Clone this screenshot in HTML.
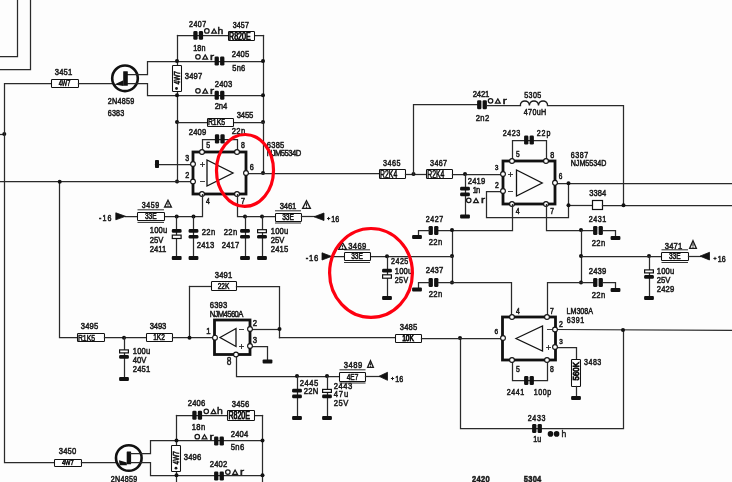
<!DOCTYPE html>
<html><head><meta charset="utf-8"><style>
html,body{margin:0;padding:0;background:#fff;}
svg{display:block;will-change:transform;}
text{font-family:"Liberation Sans",sans-serif;}
</style></head><body>
<svg width="732" height="482" viewBox="0 0 732 482">
<rect width="732" height="482" fill="#fdfdfd"/>
<polyline points="0.5,56.5 17.5,56.5 17.5,0.5" fill="none" stroke="#2a2a2a" stroke-width="1.25" stroke-linejoin="miter" stroke-linecap="square"/>
<polyline points="0.5,69.5 30.5,69.5 30.5,0.5" fill="none" stroke="#2a2a2a" stroke-width="1.25" stroke-linejoin="miter" stroke-linecap="square"/>
<polyline points="0.5,134.5 4.5,134.5" fill="none" stroke="#2a2a2a" stroke-width="1.25" stroke-linejoin="miter" stroke-linecap="square"/>
<circle cx="4.3" cy="134" r="2.0" fill="#111"/>
<polyline points="51.5,83.5 4.5,83.5 4.5,462.5 54.5,462.5" fill="none" stroke="#2a2a2a" stroke-width="1.25" stroke-linejoin="miter" stroke-linecap="square"/>
<rect x="51.5" y="79.5" width="27.0" height="8.0" fill="#fff" stroke="#111" stroke-width="1.05" rx="0.8"/>
<text x="58.65" y="85.90" font-size="8.43" fill="#111" stroke="#111" stroke-width="0.55" textLength="11.7" lengthAdjust="spacingAndGlyphs">4W7</text>
<text transform="translate(54.69,74.95) scale(0.8,1)" x="0" y="0" font-size="9.59" font-weight="normal" fill="#1a1a1a" stroke="#1a1a1a" stroke-width="0.55" textLength="22.02" lengthAdjust="spacing">3451</text>
<polyline points="78.5,83.5 112.5,83.5" fill="none" stroke="#2a2a2a" stroke-width="1.25" stroke-linejoin="miter" stroke-linecap="square"/>
<circle cx="125" cy="78.3" r="12.8" fill="none" stroke="#111" stroke-width="2.6"/>
<polyline points="127.5,74.5 147.5,74.5 147.5,61.5 263.5,61.5" fill="none" stroke="#2a2a2a" stroke-width="1.25" stroke-linejoin="miter" stroke-linecap="square"/>
<polyline points="127.5,83.5 147.5,83.5 147.5,95.5 263.5,95.5" fill="none" stroke="#2a2a2a" stroke-width="1.25" stroke-linejoin="miter" stroke-linecap="square"/>
<rect x="123.2" y="71.3" width="4.599999999999994" height="14.5" fill="#111" rx="0.5"/>
<polygon points="114.3,84.6 123.4,80.2 123.4,86" fill="#111"/>
<text transform="translate(107.71,103.5) scale(0.8,1)" x="0" y="0" font-size="9.01" font-weight="normal" fill="#1a1a1a" stroke="#1a1a1a" stroke-width="0.55" textLength="33.22" lengthAdjust="spacing">2N4859</text>
<text transform="translate(107.71,115.5) scale(0.8,1)" x="0" y="0" font-size="9.01" font-weight="normal" fill="#1a1a1a" stroke="#1a1a1a" stroke-width="0.55" textLength="20.72" lengthAdjust="spacing">6383</text>
<polyline points="177.5,35.5 263.5,35.5" fill="none" stroke="#2a2a2a" stroke-width="1.25" stroke-linejoin="miter" stroke-linecap="square"/>
<polyline points="177.5,35.5 177.5,182.5" fill="none" stroke="#2a2a2a" stroke-width="1.25" stroke-linejoin="miter" stroke-linecap="square"/>
<polyline points="263.5,35.5 263.5,173.5" fill="none" stroke="#2a2a2a" stroke-width="1.25" stroke-linejoin="miter" stroke-linecap="square"/>
<rect x="193.29999999999998" y="31.099999999999998" width="4.300000000000011" height="8.599999999999998" fill="#111" rx="1.3"/>
<rect x="198.79999999999998" y="31.099999999999998" width="4.300000000000011" height="8.599999999999998" fill="#111" rx="1.3"/>
<rect x="228.5" y="31.5" width="26.0" height="9.0" fill="#fff" stroke="#111" stroke-width="1.05" rx="0.8"/>
<text x="229.10" y="39.50" font-size="10.47" fill="#111" stroke="#111" stroke-width="0.9" textLength="21.5" lengthAdjust="spacingAndGlyphs">R820E</text>
<text transform="translate(189.12,27.2) scale(0.8,1)" x="0" y="0" font-size="8.87" font-weight="normal" fill="#1a1a1a" stroke="#1a1a1a" stroke-width="0.55" textLength="21.21" lengthAdjust="spacing">2407</text>
<text transform="translate(232.72,27.5) scale(0.8,1)" x="0" y="0" font-size="8.87" font-weight="normal" fill="#1a1a1a" stroke="#1a1a1a" stroke-width="0.55" textLength="20.21" lengthAdjust="spacing">3457</text>
<circle cx="206.85" cy="30.95" r="2.25" fill="none" stroke="#1a1a1a" stroke-width="1.25"/>
<polygon points="214.1,29.0 216.5,33.199999999999996 211.7,33.199999999999996" fill="none" stroke="#1a1a1a" stroke-width="1.25"/>
<text x="217.60" y="33.80" font-size="9.4" fill="#1a1a1a" stroke="#1a1a1a" stroke-width="0.5" textLength="5.8" lengthAdjust="spacingAndGlyphs">h</text>
<text transform="translate(193.21,51.0) scale(0.8,1)" x="0" y="0" font-size="9.01" font-weight="normal" fill="#1a1a1a" stroke="#1a1a1a" stroke-width="0.55" textLength="15.35" lengthAdjust="spacing">18n</text>
<rect x="214.6" y="56.5" width="4.300000000000011" height="9.0" fill="#111" rx="1.3"/>
<rect x="220.1" y="56.5" width="4.300000000000011" height="9.0" fill="#111" rx="1.3"/>
<circle cx="197.95" cy="56.85" r="2.25" fill="none" stroke="#1a1a1a" stroke-width="1.25"/>
<polygon points="205.2,54.900000000000006 207.6,59.1 202.79999999999998,59.1" fill="none" stroke="#1a1a1a" stroke-width="1.25"/>
<text x="210.10" y="59.70" font-size="8.3" fill="#1a1a1a" stroke="#1a1a1a" stroke-width="0.5" textLength="4" lengthAdjust="spacingAndGlyphs">r</text>
<text transform="translate(231.69,56.95) scale(0.8,1)" x="0" y="0" font-size="9.59" font-weight="normal" fill="#1a1a1a" stroke="#1a1a1a" stroke-width="0.55" textLength="22.02" lengthAdjust="spacing">2405</text>
<text transform="translate(232.20,70.6) scale(0.8,1)" x="0" y="0" font-size="9.45" font-weight="normal" fill="#1a1a1a" stroke="#1a1a1a" stroke-width="0.55" textLength="16.38" lengthAdjust="spacing">5n6</text>
<rect x="172.5" y="65.5" width="9.0" height="26.0" fill="#fff" stroke="#111" stroke-width="1.05" rx="0.8"/>
<text transform="translate(179.70,84.50) rotate(-90)" x="0" y="0" font-size="9.30" fill="#111" stroke="#111" stroke-width="0.6" textLength="13.5" lengthAdjust="spacingAndGlyphs">4W7</text>
<circle cx="176.5" cy="88.5" r="1.4" fill="#111"/>
<text transform="translate(184.69,78.95) scale(0.8,1)" x="0" y="0" font-size="9.59" font-weight="normal" fill="#1a1a1a" stroke="#1a1a1a" stroke-width="0.55" textLength="22.02" lengthAdjust="spacing">3497</text>
<rect x="214.6" y="90.7" width="4.300000000000011" height="9.0" fill="#111" rx="1.3"/>
<rect x="220.1" y="90.7" width="4.300000000000011" height="9.0" fill="#111" rx="1.3"/>
<text transform="translate(214.69,87.45) scale(0.8,1)" x="0" y="0" font-size="9.59" font-weight="normal" fill="#1a1a1a" stroke="#1a1a1a" stroke-width="0.55" textLength="22.02" lengthAdjust="spacing">2403</text>
<circle cx="197.95" cy="90.85" r="2.25" fill="none" stroke="#1a1a1a" stroke-width="1.25"/>
<polygon points="205.2,88.89999999999999 207.6,93.10000000000001 202.79999999999998,93.10000000000001" fill="none" stroke="#1a1a1a" stroke-width="1.25"/>
<text x="210.10" y="93.70" font-size="8.3" fill="#1a1a1a" stroke="#1a1a1a" stroke-width="0.5" textLength="4" lengthAdjust="spacingAndGlyphs">r</text>
<text transform="translate(214.69,108.95) scale(0.8,1)" x="0" y="0" font-size="9.59" font-weight="normal" fill="#1a1a1a" stroke="#1a1a1a" stroke-width="0.55" textLength="15.77" lengthAdjust="spacing">2n4</text>
<circle cx="177" cy="61" r="2.0" fill="#111"/>
<circle cx="177" cy="95.2" r="2.0" fill="#111"/>
<circle cx="263" cy="61" r="2.0" fill="#111"/>
<circle cx="263" cy="95.2" r="2.0" fill="#111"/>
<circle cx="177" cy="122" r="2.0" fill="#111"/>
<circle cx="263" cy="122" r="2.0" fill="#111"/>
<circle cx="177" cy="181.5" r="2.0" fill="#111"/>
<circle cx="263" cy="173" r="2.0" fill="#111"/>
<polyline points="177.5,122.5 263.5,122.5" fill="none" stroke="#2a2a2a" stroke-width="1.25" stroke-linejoin="miter" stroke-linecap="square"/>
<rect x="207.5" y="118.5" width="26.0" height="8.0" fill="#fff" stroke="#111" stroke-width="1.05" rx="0.8"/>
<text x="207.90" y="125.10" font-size="9.01" fill="#111" stroke="#111" stroke-width="0.55" textLength="17.2" lengthAdjust="spacingAndGlyphs">R1K5</text>
<text transform="translate(236.69,117.95) scale(0.8,1)" x="0" y="0" font-size="9.59" font-weight="normal" fill="#1a1a1a" stroke="#1a1a1a" stroke-width="0.55" textLength="20.77" lengthAdjust="spacing">3455</text>
<text transform="translate(188.69,134.95) scale(0.8,1)" x="0" y="0" font-size="9.59" font-weight="normal" fill="#1a1a1a" stroke="#1a1a1a" stroke-width="0.55" textLength="22.02" lengthAdjust="spacing">2409</text>
<text transform="translate(231.69,133.95) scale(0.8,1)" x="0" y="0" font-size="9.59" font-weight="normal" fill="#1a1a1a" stroke="#1a1a1a" stroke-width="0.55" textLength="17.02" lengthAdjust="spacing">22n</text>
<polyline points="202.5,152.5 202.5,139.5 237.5,139.5 237.5,152.5" fill="none" stroke="#2a2a2a" stroke-width="1.25" stroke-linejoin="miter" stroke-linecap="square"/>
<rect x="214.9" y="134.20000000000002" width="4.300000000000011" height="9.399999999999977" fill="#111" rx="1.3"/>
<rect x="220.4" y="134.20000000000002" width="4.300000000000011" height="9.399999999999977" fill="#111" rx="1.3"/>
<text transform="translate(208.10,147.6) scale(0.8,1)" x="0" y="0" font-size="8.72" font-weight="normal" fill="#1a1a1a" stroke="#1a1a1a" stroke-width="0.55" text-anchor="middle">5</text>
<text transform="translate(242.85,147.6) scale(0.8,1)" x="0" y="0" font-size="8.72" font-weight="normal" fill="#1a1a1a" stroke="#1a1a1a" stroke-width="0.55" text-anchor="middle">8</text>
<polyline points="155.5,164.5 193.5,164.5" fill="none" stroke="#2a2a2a" stroke-width="1.25" stroke-linejoin="miter" stroke-linecap="square"/>
<rect x="155" y="160" width="4" height="8" fill="#111" rx="0.8"/>
<polyline points="0.5,181.5 193.5,181.5" fill="none" stroke="#2a2a2a" stroke-width="1.25" stroke-linejoin="miter" stroke-linecap="square"/>
<polyline points="246.5,173.5 378.5,173.5" fill="none" stroke="#2a2a2a" stroke-width="1.25" stroke-linejoin="miter" stroke-linecap="square"/>
<rect x="193" y="152" width="53" height="42" fill="none" stroke="#111" stroke-width="2.8"/>
<polygon points="207,160 207,186 233,173" fill="none" stroke="#111" stroke-width="1.3"/>
<circle cx="202" cy="152" r="2.4" fill="#fff" stroke="#111" stroke-width="1.1"/>
<circle cx="237" cy="152" r="2.4" fill="#fff" stroke="#111" stroke-width="1.1"/>
<circle cx="193" cy="164" r="2.4" fill="#fff" stroke="#111" stroke-width="1.1"/>
<circle cx="193" cy="181.5" r="2.4" fill="#fff" stroke="#111" stroke-width="1.1"/>
<circle cx="246" cy="173" r="2.4" fill="#fff" stroke="#111" stroke-width="1.1"/>
<circle cx="202" cy="194" r="2.4" fill="#fff" stroke="#111" stroke-width="1.1"/>
<circle cx="237" cy="194" r="2.4" fill="#fff" stroke="#111" stroke-width="1.1"/>
<text transform="translate(187.15,160.8) scale(0.8,1)" x="0" y="0" font-size="8.72" font-weight="normal" fill="#1a1a1a" stroke="#1a1a1a" stroke-width="0.55" text-anchor="middle">3</text>
<text transform="translate(187.15,177.8) scale(0.8,1)" x="0" y="0" font-size="9.01" font-weight="normal" fill="#1a1a1a" stroke="#1a1a1a" stroke-width="0.55" text-anchor="middle">2</text>
<text transform="translate(251.90,169.6) scale(0.8,1)" x="0" y="0" font-size="9.16" font-weight="normal" fill="#1a1a1a" stroke="#1a1a1a" stroke-width="0.55" text-anchor="middle">6</text>
<text transform="translate(208.00,203.8) scale(0.8,1)" x="0" y="0" font-size="8.58" font-weight="normal" fill="#1a1a1a" stroke="#1a1a1a" stroke-width="0.55" text-anchor="middle">4</text>
<text transform="translate(242.90,203.5) scale(0.8,1)" x="0" y="0" font-size="9.01" font-weight="normal" fill="#1a1a1a" stroke="#1a1a1a" stroke-width="0.55" text-anchor="middle">7</text>
<polyline points="200.5,164.5 204.5,164.5" fill="none" stroke="#2a2a2a" stroke-width="0.9" stroke-linejoin="miter" stroke-linecap="square"/>
<polyline points="202.5,162.5 202.5,166.5" fill="none" stroke="#2a2a2a" stroke-width="0.9" stroke-linejoin="miter" stroke-linecap="square"/>
<polyline points="200.5,181.5 204.5,181.5" fill="none" stroke="#2a2a2a" stroke-width="0.9" stroke-linejoin="miter" stroke-linecap="square"/>
<text transform="translate(266.70,147.6) scale(0.8,1)" x="0" y="0" font-size="9.45" font-weight="normal" fill="#1a1a1a" stroke="#1a1a1a" stroke-width="0.55" textLength="22.01" lengthAdjust="spacing">6385</text>
<text transform="translate(266.69,156.2) scale(0.8,1)" x="0" y="0" font-size="9.59" font-weight="normal" fill="#1a1a1a" stroke="#1a1a1a" stroke-width="0.55" textLength="43.27" lengthAdjust="spacing">NJM5534D</text>
<polyline points="202.5,194.5 202.5,216.5 125.5,216.5" fill="none" stroke="#2a2a2a" stroke-width="1.25" stroke-linejoin="miter" stroke-linecap="square"/>
<polygon points="115.8,212.8 125.5,216.3 115.8,219.8" fill="#111" stroke="#111" stroke-width="0.8"/>
<text transform="translate(98.92,220.6) scale(0.8,1)" x="0" y="0" font-size="8.87" font-weight="normal" fill="#1a1a1a" stroke="#1a1a1a" stroke-width="0.55" textLength="15.71" lengthAdjust="spacing">-16</text>
<rect x="137.5" y="212.5" width="27.0" height="8.0" fill="#fff" stroke="#111" stroke-width="1.05" rx="0.8"/>
<text x="144.90" y="219.30" font-size="9.01" fill="#111" stroke="#111" stroke-width="0.55" textLength="11.7" lengthAdjust="spacingAndGlyphs">33E</text>
<line x1="137.5" y1="209.80" x2="164" y2="209.80" stroke="#333" stroke-width="1.05"/>
<line x1="137.5" y1="222.40" x2="164" y2="222.40" stroke="#333" stroke-width="1.05"/>
<text transform="translate(141.72,208.4) scale(0.8,1)" x="0" y="0" font-size="8.87" font-weight="normal" fill="#1a1a1a" stroke="#1a1a1a" stroke-width="0.55" textLength="21.96" lengthAdjust="spacing">3459</text>
<polygon points="168.0,200.29999999999998 171.4,207.0 164.6,207.0" fill="none" stroke="#1a1a1a" stroke-width="1.3"/>
<line x1="168.0" y1="202.80" x2="168.0" y2="205.00" stroke="#222" stroke-width="1.1"/>
<circle cx="168.0" cy="205.90" r="0.6" fill="#222"/>
<circle cx="176.7" cy="216.4" r="2.0" fill="#111"/>
<circle cx="193.5" cy="216.4" r="2.0" fill="#111"/>
<polyline points="176.5,216.5 176.5,257.5" fill="none" stroke="#2a2a2a" stroke-width="1.25" stroke-linejoin="miter" stroke-linecap="square"/>
<polyline points="193.5,216.5 193.5,257.5" fill="none" stroke="#2a2a2a" stroke-width="1.25" stroke-linejoin="miter" stroke-linecap="square"/>
<rect x="171.79999999999998" y="229.10000000000002" width="9.800000000000011" height="3.6999999999999886" fill="#111" rx="1.3"/>
<rect x="172.29999999999998" y="235.10000000000002" width="8.800000000000011" height="3.3999999999999773" fill="#fff" stroke="#111" stroke-width="1.2" rx="0"/>
<rect x="188.6" y="229.10000000000002" width="9.800000000000011" height="3.6999999999999886" fill="#111" rx="1.3"/>
<rect x="188.6" y="234.9" width="9.800000000000011" height="3.700000000000017" fill="#111" rx="1.3"/>
<rect x="171.79999999999998" y="256" width="9.800000000000011" height="4.0" fill="#111" rx="1"/>
<rect x="188.6" y="256" width="9.800000000000011" height="4.0" fill="#111" rx="1"/>
<text transform="translate(149.69,232.95) scale(0.8,1)" x="0" y="0" font-size="9.59" font-weight="normal" fill="#1a1a1a" stroke="#1a1a1a" stroke-width="0.55" textLength="22.02" lengthAdjust="spacing">100u</text>
<text transform="translate(149.69,242.95) scale(0.8,1)" x="0" y="0" font-size="9.59" font-weight="normal" fill="#1a1a1a" stroke="#1a1a1a" stroke-width="0.55" textLength="17.02" lengthAdjust="spacing">25V</text>
<text transform="translate(149.69,251.95) scale(0.8,1)" x="0" y="0" font-size="9.59" font-weight="normal" fill="#1a1a1a" stroke="#1a1a1a" stroke-width="0.55" textLength="20.77" lengthAdjust="spacing">2411</text>
<text transform="translate(201.69,234.95) scale(0.8,1)" x="0" y="0" font-size="9.59" font-weight="normal" fill="#1a1a1a" stroke="#1a1a1a" stroke-width="0.55" textLength="17.02" lengthAdjust="spacing">22n</text>
<text transform="translate(196.69,247.95) scale(0.8,1)" x="0" y="0" font-size="9.59" font-weight="normal" fill="#1a1a1a" stroke="#1a1a1a" stroke-width="0.55" textLength="22.02" lengthAdjust="spacing">2413</text>
<polyline points="237.5,194.5 237.5,216.5 275.5,216.5" fill="none" stroke="#2a2a2a" stroke-width="1.25" stroke-linejoin="miter" stroke-linecap="square"/>
<circle cx="245" cy="216.4" r="2.0" fill="#111"/>
<circle cx="262" cy="216.4" r="2.0" fill="#111"/>
<polyline points="245.5,216.5 245.5,257.5" fill="none" stroke="#2a2a2a" stroke-width="1.25" stroke-linejoin="miter" stroke-linecap="square"/>
<polyline points="262.5,216.5 262.5,257.5" fill="none" stroke="#2a2a2a" stroke-width="1.25" stroke-linejoin="miter" stroke-linecap="square"/>
<rect x="240.1" y="229.10000000000002" width="9.800000000000011" height="3.6999999999999886" fill="#111" rx="1.3"/>
<rect x="240.1" y="234.9" width="9.800000000000011" height="3.700000000000017" fill="#111" rx="1.3"/>
<rect x="257.6" y="229.70000000000002" width="8.799999999999955" height="3.0" fill="#fff" stroke="#111" stroke-width="1.2" rx="0"/>
<rect x="257.1" y="234.9" width="9.799999999999955" height="3.700000000000017" fill="#111" rx="1.3"/>
<rect x="240.1" y="256" width="9.800000000000011" height="4.0" fill="#111" rx="1"/>
<rect x="257.1" y="256" width="9.799999999999955" height="4.0" fill="#111" rx="1"/>
<text transform="translate(223.69,234.95) scale(0.8,1)" x="0" y="0" font-size="9.59" font-weight="normal" fill="#1a1a1a" stroke="#1a1a1a" stroke-width="0.55" textLength="17.02" lengthAdjust="spacing">22n</text>
<text transform="translate(221.69,247.95) scale(0.8,1)" x="0" y="0" font-size="9.59" font-weight="normal" fill="#1a1a1a" stroke="#1a1a1a" stroke-width="0.55" textLength="22.02" lengthAdjust="spacing">2417</text>
<text transform="translate(270.69,233.95) scale(0.8,1)" x="0" y="0" font-size="9.59" font-weight="normal" fill="#1a1a1a" stroke="#1a1a1a" stroke-width="0.55" textLength="22.02" lengthAdjust="spacing">100u</text>
<text transform="translate(270.69,242.95) scale(0.8,1)" x="0" y="0" font-size="9.59" font-weight="normal" fill="#1a1a1a" stroke="#1a1a1a" stroke-width="0.55" textLength="17.02" lengthAdjust="spacing">25V</text>
<text transform="translate(270.69,251.95) scale(0.8,1)" x="0" y="0" font-size="9.59" font-weight="normal" fill="#1a1a1a" stroke="#1a1a1a" stroke-width="0.55" textLength="22.02" lengthAdjust="spacing">2415</text>
<rect x="275.5" y="213.5" width="26.0" height="8.0" fill="#fff" stroke="#111" stroke-width="1.05" rx="0.8"/>
<text x="282.15" y="219.90" font-size="8.43" fill="#111" stroke="#111" stroke-width="0.55" textLength="11.7" lengthAdjust="spacingAndGlyphs">33E</text>
<line x1="275" y1="210.80" x2="301" y2="210.80" stroke="#333" stroke-width="1.05"/>
<line x1="275" y1="223.00" x2="301" y2="223.00" stroke="#333" stroke-width="1.05"/>
<text transform="translate(279.69,208.95) scale(0.8,1)" x="0" y="0" font-size="9.59" font-weight="normal" fill="#1a1a1a" stroke="#1a1a1a" stroke-width="0.55" textLength="20.77" lengthAdjust="spacing">3461</text>
<polygon points="306.5,200.7 310.4,208.4 302.6,208.4" fill="none" stroke="#1a1a1a" stroke-width="1.3"/>
<line x1="306.5" y1="203.20" x2="306.5" y2="206.40" stroke="#222" stroke-width="1.1"/>
<circle cx="306.5" cy="207.30" r="0.6" fill="#222"/>
<polyline points="301.5,216.5 314.5,216.5" fill="none" stroke="#2a2a2a" stroke-width="1.25" stroke-linejoin="miter" stroke-linecap="square"/>
<polygon points="324,213 314,216.75 324,220.5" fill="#111" stroke="#111" stroke-width="0.8"/>
<line x1="327" y1="218.55" x2="330.20" y2="218.55" stroke="#1a1a1a" stroke-width="1"/>
<line x1="328.60" y1="216.95" x2="328.60" y2="220.15" stroke="#1a1a1a" stroke-width="1"/>
<text transform="translate(331.32,221.75) scale(0.8,1)" x="0" y="0" font-size="8.87" font-weight="normal" fill="#1a1a1a" stroke="#1a1a1a" stroke-width="0.55" textLength="9.96" lengthAdjust="spacing">16</text>
<rect x="379.5" y="169.5" width="26.0" height="9.0" fill="#fff" stroke="#111" stroke-width="1.05" rx="0.8"/>
<text x="380.00" y="177.70" font-size="10.47" fill="#111" stroke="#111" stroke-width="0.55" textLength="17.2" lengthAdjust="spacingAndGlyphs">R2K4</text>
<text transform="translate(382.91,165.9) scale(0.8,1)" x="0" y="0" font-size="9.01" font-weight="normal" fill="#1a1a1a" stroke="#1a1a1a" stroke-width="0.55" textLength="22.10" lengthAdjust="spacing">3465</text>
<polyline points="405.5,174.5 426.5,174.5" fill="none" stroke="#2a2a2a" stroke-width="1.25" stroke-linejoin="miter" stroke-linecap="square"/>
<circle cx="413.5" cy="174" r="2.0" fill="#111"/>
<polyline points="413.5,174.5 413.5,104.5 477.5,104.5" fill="none" stroke="#2a2a2a" stroke-width="1.25" stroke-linejoin="miter" stroke-linecap="square"/>
<rect x="426.5" y="169.5" width="26.0" height="9.0" fill="#fff" stroke="#111" stroke-width="1.05" rx="0.8"/>
<text x="427.20" y="177.80" font-size="10.32" fill="#111" stroke="#111" stroke-width="0.55" textLength="17.2" lengthAdjust="spacingAndGlyphs">R2K4</text>
<text transform="translate(430.11,165.9) scale(0.8,1)" x="0" y="0" font-size="9.01" font-weight="normal" fill="#1a1a1a" stroke="#1a1a1a" stroke-width="0.55" textLength="21.10" lengthAdjust="spacing">3467</text>
<polyline points="452.5,174.5 503.5,174.5" fill="none" stroke="#2a2a2a" stroke-width="1.25" stroke-linejoin="miter" stroke-linecap="square"/>
<circle cx="465" cy="174" r="2.0" fill="#111"/>
<polyline points="465.5,174.5 465.5,216.5" fill="none" stroke="#2a2a2a" stroke-width="1.25" stroke-linejoin="miter" stroke-linecap="square"/>
<rect x="460.1" y="186.8" width="9.799999999999955" height="3.6999999999999886" fill="#111" rx="1.3"/>
<rect x="460.1" y="192.6" width="9.799999999999955" height="3.700000000000017" fill="#111" rx="1.3"/>
<rect x="460.1" y="214.5" width="9.799999999999955" height="4.0" fill="#111" rx="1"/>
<text transform="translate(467.69,183.95) scale(0.8,1)" x="0" y="0" font-size="9.59" font-weight="normal" fill="#1a1a1a" stroke="#1a1a1a" stroke-width="0.55" textLength="22.02" lengthAdjust="spacing">2419</text>
<text transform="translate(472.69,192.95) scale(0.8,1)" x="0" y="0" font-size="9.59" font-weight="normal" fill="#1a1a1a" stroke="#1a1a1a" stroke-width="0.55" textLength="9.52" lengthAdjust="spacing">1n</text>
<circle cx="468.75" cy="200.35" r="2.25" fill="none" stroke="#1a1a1a" stroke-width="1.25"/>
<polygon points="476.0,198.39999999999998 478.4,202.6 473.6,202.6" fill="none" stroke="#1a1a1a" stroke-width="1.25"/>
<text x="480.90" y="203.20" font-size="8.3" fill="#1a1a1a" stroke="#1a1a1a" stroke-width="0.5" textLength="4" lengthAdjust="spacingAndGlyphs">r</text>
<rect x="477.1" y="100.3" width="4.2999999999999545" height="9.0" fill="#111" rx="1.3"/>
<rect x="482.6" y="100.3" width="4.2999999999999545" height="9.0" fill="#111" rx="1.3"/>
<text transform="translate(472.69,96.95) scale(0.8,1)" x="0" y="0" font-size="9.59" font-weight="normal" fill="#1a1a1a" stroke="#1a1a1a" stroke-width="0.55" textLength="20.77" lengthAdjust="spacing">2421</text>
<text transform="translate(475.69,120.95) scale(0.8,1)" x="0" y="0" font-size="9.59" font-weight="normal" fill="#1a1a1a" stroke="#1a1a1a" stroke-width="0.55" textLength="17.02" lengthAdjust="spacing">2n2</text>
<circle cx="490.55" cy="100.85" r="2.25" fill="none" stroke="#1a1a1a" stroke-width="1.25"/>
<polygon points="497.8,98.89999999999999 500.2,103.10000000000001 495.40000000000003,103.10000000000001" fill="none" stroke="#1a1a1a" stroke-width="1.25"/>
<text x="502.70" y="103.70" font-size="8.3" fill="#1a1a1a" stroke="#1a1a1a" stroke-width="0.5" textLength="4" lengthAdjust="spacingAndGlyphs">r</text>
<polyline points="487.5,105.5 520.5,105.5" fill="none" stroke="#2a2a2a" stroke-width="1.25" stroke-linejoin="miter" stroke-linecap="square"/>
<path d="M520.3,105.5 c0,-6 9.1,-6 9.1,0 c0,-6 9.1,-6 9.1,0 c0,-6 9.1,-6 9.1,0" fill="none" stroke="#1a1a1a" stroke-width="1.35"/>
<polyline points="547.5,105.5 623.5,105.5 623.5,205.5" fill="none" stroke="#2a2a2a" stroke-width="1.25" stroke-linejoin="miter" stroke-linecap="square"/>
<text transform="translate(524.22,97.55) scale(0.8,1)" x="0" y="0" font-size="8.87" font-weight="normal" fill="#1a1a1a" stroke="#1a1a1a" stroke-width="0.55" textLength="21.33" lengthAdjust="spacing">5305</text>
<text transform="translate(523.71,114.8) scale(0.8,1)" x="0" y="0" font-size="9.01" font-weight="normal" fill="#1a1a1a" stroke="#1a1a1a" stroke-width="0.55" textLength="28.22" lengthAdjust="spacing">470uH</text>
<polyline points="512.5,161.5 512.5,140.5 546.5,140.5 546.5,161.5" fill="none" stroke="#2a2a2a" stroke-width="1.25" stroke-linejoin="miter" stroke-linecap="square"/>
<rect x="524.1" y="135.5" width="4.2999999999999545" height="9.0" fill="#111" rx="1.3"/>
<rect x="529.6" y="135.5" width="4.2999999999999545" height="9.0" fill="#111" rx="1.3"/>
<text transform="translate(502.71,135.8) scale(0.8,1)" x="0" y="0" font-size="9.01" font-weight="normal" fill="#1a1a1a" stroke="#1a1a1a" stroke-width="0.55" textLength="21.97" lengthAdjust="spacing">2423</text>
<text transform="translate(536.72,136.0) scale(0.8,1)" x="0" y="0" font-size="8.87" font-weight="normal" fill="#1a1a1a" stroke="#1a1a1a" stroke-width="0.55" textLength="17.21" lengthAdjust="spacing">22p</text>
<polyline points="503.5,191.5 486.5,191.5 486.5,217.5 568.5,217.5 568.5,183.5" fill="none" stroke="#2a2a2a" stroke-width="1.25" stroke-linejoin="miter" stroke-linecap="square"/>
<polyline points="555.5,183.5 732.5,183.5" fill="none" stroke="#2a2a2a" stroke-width="1.25" stroke-linejoin="miter" stroke-linecap="square"/>
<polyline points="568.5,205.5 592.5,205.5" fill="none" stroke="#2a2a2a" stroke-width="1.25" stroke-linejoin="miter" stroke-linecap="square"/>
<rect x="592.5" y="200.5" width="10.0" height="9.0" fill="#fff" stroke="#111" stroke-width="1.2" rx="0"/>
<polyline points="602.5,205.5 732.5,205.5" fill="none" stroke="#2a2a2a" stroke-width="1.25" stroke-linejoin="miter" stroke-linecap="square"/>
<circle cx="568.5" cy="183.3" r="2.0" fill="#111"/>
<circle cx="568.5" cy="205.3" r="2.0" fill="#111"/>
<circle cx="623.5" cy="205.3" r="2.0" fill="#111"/>
<text transform="translate(589.20,196.3) scale(0.8,1)" x="0" y="0" font-size="9.45" font-weight="normal" fill="#1a1a1a" stroke="#1a1a1a" stroke-width="0.55" textLength="21.13" lengthAdjust="spacing">3384</text>
<rect x="503" y="161" width="52" height="43" fill="none" stroke="#111" stroke-width="2.8"/>
<polygon points="516.5,170 516.5,196 542.2,183" fill="none" stroke="#111" stroke-width="1.3"/>
<circle cx="512" cy="161" r="2.4" fill="#fff" stroke="#111" stroke-width="1.1"/>
<circle cx="546" cy="161" r="2.4" fill="#fff" stroke="#111" stroke-width="1.1"/>
<circle cx="503" cy="174" r="2.4" fill="#fff" stroke="#111" stroke-width="1.1"/>
<circle cx="503" cy="191" r="2.4" fill="#fff" stroke="#111" stroke-width="1.1"/>
<circle cx="555" cy="182.8" r="2.4" fill="#fff" stroke="#111" stroke-width="1.1"/>
<circle cx="512" cy="204" r="2.4" fill="#fff" stroke="#111" stroke-width="1.1"/>
<circle cx="546" cy="204" r="2.4" fill="#fff" stroke="#111" stroke-width="1.1"/>
<text transform="translate(517.80,157.2) scale(0.8,1)" x="0" y="0" font-size="8.28" font-weight="normal" fill="#1a1a1a" stroke="#1a1a1a" stroke-width="0.55" text-anchor="middle">5</text>
<text transform="translate(552.30,157.5) scale(0.8,1)" x="0" y="0" font-size="9.01" font-weight="normal" fill="#1a1a1a" stroke="#1a1a1a" stroke-width="0.55" text-anchor="middle">8</text>
<text transform="translate(496.60,170.4) scale(0.8,1)" x="0" y="0" font-size="7.70" font-weight="normal" fill="#1a1a1a" stroke="#1a1a1a" stroke-width="0.55" text-anchor="middle">3</text>
<text transform="translate(497.00,188.1) scale(0.8,1)" x="0" y="0" font-size="8.58" font-weight="normal" fill="#1a1a1a" stroke="#1a1a1a" stroke-width="0.55" text-anchor="middle">2</text>
<text transform="translate(560.45,179) scale(0.8,1)" x="0" y="0" font-size="8.14" font-weight="normal" fill="#1a1a1a" stroke="#1a1a1a" stroke-width="0.55" text-anchor="middle">6</text>
<text transform="translate(517.75,213.8) scale(0.8,1)" x="0" y="0" font-size="8.72" font-weight="normal" fill="#1a1a1a" stroke="#1a1a1a" stroke-width="0.55" text-anchor="middle">4</text>
<text transform="translate(552.00,213.8) scale(0.8,1)" x="0" y="0" font-size="8.28" font-weight="normal" fill="#1a1a1a" stroke="#1a1a1a" stroke-width="0.55" text-anchor="middle">7</text>
<polyline points="508.5,174.5 512.5,174.5" fill="none" stroke="#2a2a2a" stroke-width="0.9" stroke-linejoin="miter" stroke-linecap="square"/>
<polyline points="510.5,172.5 510.5,176.5" fill="none" stroke="#2a2a2a" stroke-width="0.9" stroke-linejoin="miter" stroke-linecap="square"/>
<polyline points="508.5,191.5 512.5,191.5" fill="none" stroke="#2a2a2a" stroke-width="0.9" stroke-linejoin="miter" stroke-linecap="square"/>
<text transform="translate(570.72,157.85) scale(0.8,1)" x="0" y="0" font-size="8.87" font-weight="normal" fill="#1a1a1a" stroke="#1a1a1a" stroke-width="0.55" textLength="21.96" lengthAdjust="spacing">6387</text>
<text transform="translate(570.72,166.15) scale(0.8,1)" x="0" y="0" font-size="8.87" font-weight="normal" fill="#1a1a1a" stroke="#1a1a1a" stroke-width="0.55" textLength="44.46" lengthAdjust="spacing">NJM5534D</text>
<polyline points="546.5,204.5 546.5,230.5 593.5,230.5" fill="none" stroke="#2a2a2a" stroke-width="1.25" stroke-linejoin="miter" stroke-linecap="square"/>
<circle cx="581" cy="230" r="2.0" fill="#111"/>
<rect x="593.1" y="226.0" width="4.2999999999999545" height="9.0" fill="#111" rx="1.3"/>
<rect x="598.6" y="226.0" width="4.2999999999999545" height="9.0" fill="#111" rx="1.3"/>
<polyline points="603.5,230.5 615.5,230.5 615.5,236.5" fill="none" stroke="#2a2a2a" stroke-width="1.25" stroke-linejoin="miter" stroke-linecap="square"/>
<rect x="610.6" y="236" width="9.799999999999955" height="4.0" fill="#111" rx="1"/>
<text transform="translate(588.71,222.0) scale(0.8,1)" x="0" y="0" font-size="9.01" font-weight="normal" fill="#1a1a1a" stroke="#1a1a1a" stroke-width="0.55" textLength="21.97" lengthAdjust="spacing">2431</text>
<text transform="translate(591.69,245.95) scale(0.8,1)" x="0" y="0" font-size="9.59" font-weight="normal" fill="#1a1a1a" stroke="#1a1a1a" stroke-width="0.55" textLength="17.02" lengthAdjust="spacing">22n</text>
<polyline points="581.5,230.5 581.5,282.5" fill="none" stroke="#2a2a2a" stroke-width="1.25" stroke-linejoin="miter" stroke-linecap="square"/>
<polyline points="512.5,204.5 512.5,230.5 438.5,230.5" fill="none" stroke="#2a2a2a" stroke-width="1.25" stroke-linejoin="miter" stroke-linecap="square"/>
<rect x="428.6" y="226.0" width="4.2999999999999545" height="9.0" fill="#111" rx="1.3"/>
<rect x="434.1" y="226.0" width="4.2999999999999545" height="9.0" fill="#111" rx="1.3"/>
<polyline points="429.5,230.5 418.5,230.5 418.5,235.5" fill="none" stroke="#2a2a2a" stroke-width="1.25" stroke-linejoin="miter" stroke-linecap="square"/>
<rect x="412.1" y="235" width="9.799999999999955" height="4.0" fill="#111" rx="1"/>
<polyline points="452.5,230.5 452.5,282.5" fill="none" stroke="#2a2a2a" stroke-width="1.25" stroke-linejoin="miter" stroke-linecap="square"/>
<circle cx="452" cy="230" r="2.0" fill="#111"/>
<circle cx="452" cy="256" r="2.0" fill="#111"/>
<circle cx="452" cy="282.5" r="2.0" fill="#111"/>
<circle cx="581" cy="256" r="2.0" fill="#111"/>
<circle cx="581" cy="282.5" r="2.0" fill="#111"/>
<circle cx="649" cy="256" r="2.0" fill="#111"/>
<text transform="translate(425.72,222.0) scale(0.8,1)" x="0" y="0" font-size="8.87" font-weight="normal" fill="#1a1a1a" stroke="#1a1a1a" stroke-width="0.55" textLength="21.96" lengthAdjust="spacing">2427</text>
<text transform="translate(428.69,244.95) scale(0.8,1)" x="0" y="0" font-size="9.59" font-weight="normal" fill="#1a1a1a" stroke="#1a1a1a" stroke-width="0.55" textLength="17.02" lengthAdjust="spacing">22n</text>
<rect x="428.6" y="278.0" width="4.2999999999999545" height="9.0" fill="#111" rx="1.3"/>
<rect x="434.1" y="278.0" width="4.2999999999999545" height="9.0" fill="#111" rx="1.3"/>
<polyline points="429.5,282.5 418.5,282.5 418.5,288.5" fill="none" stroke="#2a2a2a" stroke-width="1.25" stroke-linejoin="miter" stroke-linecap="square"/>
<rect x="412.1" y="287.5" width="9.799999999999955" height="4.0" fill="#111" rx="1"/>
<polyline points="438.5,282.5 511.5,282.5 511.5,317.5" fill="none" stroke="#2a2a2a" stroke-width="1.25" stroke-linejoin="miter" stroke-linecap="square"/>
<text transform="translate(425.69,272.95) scale(0.8,1)" x="0" y="0" font-size="9.59" font-weight="normal" fill="#1a1a1a" stroke="#1a1a1a" stroke-width="0.55" textLength="22.02" lengthAdjust="spacing">2437</text>
<text transform="translate(428.69,296.95) scale(0.8,1)" x="0" y="0" font-size="9.59" font-weight="normal" fill="#1a1a1a" stroke="#1a1a1a" stroke-width="0.55" textLength="17.02" lengthAdjust="spacing">22n</text>
<polyline points="331.5,256.5 452.5,256.5" fill="none" stroke="#2a2a2a" stroke-width="1.25" stroke-linejoin="miter" stroke-linecap="square"/>
<polygon points="322,252.8 331.5,256.4 322,260" fill="#111" stroke="#111" stroke-width="0.8"/>
<text transform="translate(305.69,260.95) scale(0.8,1)" x="0" y="0" font-size="9.59" font-weight="normal" fill="#1a1a1a" stroke="#1a1a1a" stroke-width="0.55" textLength="15.77" lengthAdjust="spacing">-16</text>
<rect x="344.5" y="252.5" width="26.0" height="8.0" fill="#fff" stroke="#111" stroke-width="1.05" rx="0.8"/>
<text x="351.15" y="259.40" font-size="9.16" fill="#111" stroke="#111" stroke-width="0.55" textLength="11.7" lengthAdjust="spacingAndGlyphs">33E</text>
<line x1="344" y1="249.80" x2="370" y2="249.80" stroke="#333" stroke-width="1.05"/>
<line x1="344" y1="262.50" x2="370" y2="262.50" stroke="#333" stroke-width="1.05"/>
<text transform="translate(348.19,249.25) scale(0.8,1)" x="0" y="0" font-size="9.59" font-weight="normal" fill="#1a1a1a" stroke="#1a1a1a" stroke-width="0.55" textLength="22.64" lengthAdjust="spacing">3469</text>
<polygon points="342.5,242.7 346.4,249.4 338.6,249.4" fill="none" stroke="#1a1a1a" stroke-width="1.3"/>
<line x1="342.5" y1="245.20" x2="342.5" y2="247.40" stroke="#222" stroke-width="1.1"/>
<circle cx="342.5" cy="248.30" r="0.6" fill="#222"/>
<circle cx="387" cy="256.3" r="2.0" fill="#111"/>
<polyline points="387.5,256.5 387.5,297.5" fill="none" stroke="#2a2a2a" stroke-width="1.25" stroke-linejoin="miter" stroke-linecap="square"/>
<rect x="382.1" y="268.8" width="9.799999999999955" height="3.6999999999999886" fill="#111" rx="1.3"/>
<rect x="382.6" y="274.8" width="8.799999999999955" height="3.3999999999999773" fill="#fff" stroke="#111" stroke-width="1.2" rx="0"/>
<rect x="382.1" y="296" width="9.799999999999955" height="4.0" fill="#111" rx="1"/>
<text transform="translate(391.12,264.45) scale(0.8,1)" x="0" y="0" font-size="8.87" font-weight="normal" fill="#1a1a1a" stroke="#1a1a1a" stroke-width="0.55" textLength="21.46" lengthAdjust="spacing">2425</text>
<text transform="translate(394.69,273.95) scale(0.8,1)" x="0" y="0" font-size="9.59" font-weight="normal" fill="#1a1a1a" stroke="#1a1a1a" stroke-width="0.55" textLength="22.02" lengthAdjust="spacing">100u</text>
<text transform="translate(394.72,282.5) scale(0.8,1)" x="0" y="0" font-size="8.87" font-weight="normal" fill="#1a1a1a" stroke="#1a1a1a" stroke-width="0.55" textLength="16.96" lengthAdjust="spacing">25V</text>
<polyline points="581.5,256.5 661.5,256.5" fill="none" stroke="#2a2a2a" stroke-width="1.25" stroke-linejoin="miter" stroke-linecap="square"/>
<polyline points="547.5,317.5 547.5,282.5 593.5,282.5" fill="none" stroke="#2a2a2a" stroke-width="1.25" stroke-linejoin="miter" stroke-linecap="square"/>
<rect x="593.1" y="278.0" width="4.2999999999999545" height="9.0" fill="#111" rx="1.3"/>
<rect x="598.6" y="278.0" width="4.2999999999999545" height="9.0" fill="#111" rx="1.3"/>
<polyline points="603.5,282.5 615.5,282.5 615.5,288.5" fill="none" stroke="#2a2a2a" stroke-width="1.25" stroke-linejoin="miter" stroke-linecap="square"/>
<rect x="610.6" y="288" width="9.799999999999955" height="4.0" fill="#111" rx="1"/>
<text transform="translate(588.69,273.95) scale(0.8,1)" x="0" y="0" font-size="9.59" font-weight="normal" fill="#1a1a1a" stroke="#1a1a1a" stroke-width="0.55" textLength="22.02" lengthAdjust="spacing">2439</text>
<text transform="translate(591.69,297.95) scale(0.8,1)" x="0" y="0" font-size="9.59" font-weight="normal" fill="#1a1a1a" stroke="#1a1a1a" stroke-width="0.55" textLength="17.02" lengthAdjust="spacing">22n</text>
<rect x="661.5" y="252.5" width="27.0" height="8.0" fill="#fff" stroke="#111" stroke-width="1.05" rx="0.8"/>
<text x="668.90" y="259.40" font-size="9.16" fill="#111" stroke="#111" stroke-width="0.55" textLength="11.7" lengthAdjust="spacingAndGlyphs">33E</text>
<line x1="661.5" y1="249.80" x2="688" y2="249.80" stroke="#333" stroke-width="1.05"/>
<line x1="661.5" y1="262.50" x2="688" y2="262.50" stroke="#333" stroke-width="1.05"/>
<text transform="translate(664.69,248.95) scale(0.8,1)" x="0" y="0" font-size="9.59" font-weight="normal" fill="#1a1a1a" stroke="#1a1a1a" stroke-width="0.55" textLength="22.02" lengthAdjust="spacing">3471</text>
<polygon points="693.0,240.7 696.4,248.4 689.6,248.4" fill="none" stroke="#1a1a1a" stroke-width="1.3"/>
<line x1="693.0" y1="243.20" x2="693.0" y2="246.40" stroke="#222" stroke-width="1.1"/>
<circle cx="693.0" cy="247.30" r="0.6" fill="#222"/>
<polyline points="688.5,256.5 700.5,256.5" fill="none" stroke="#2a2a2a" stroke-width="1.25" stroke-linejoin="miter" stroke-linecap="square"/>
<polygon points="709.5,252.3 700,256.15 709.5,260" fill="#111" stroke="#111" stroke-width="0.8"/>
<line x1="713.4" y1="258.45" x2="716.60" y2="258.45" stroke="#1a1a1a" stroke-width="1"/>
<line x1="715.00" y1="256.85" x2="715.00" y2="260.05" stroke="#1a1a1a" stroke-width="1"/>
<text transform="translate(717.72,261.65) scale(0.8,1)" x="0" y="0" font-size="8.87" font-weight="normal" fill="#1a1a1a" stroke="#1a1a1a" stroke-width="0.55" textLength="10.08" lengthAdjust="spacing">16</text>
<polyline points="649.5,256.5 649.5,297.5" fill="none" stroke="#2a2a2a" stroke-width="1.25" stroke-linejoin="miter" stroke-linecap="square"/>
<rect x="644.6" y="269.9" width="8.799999999999955" height="3.0" fill="#fff" stroke="#111" stroke-width="1.2" rx="0"/>
<rect x="644.1" y="275.1" width="9.799999999999955" height="3.6999999999999886" fill="#111" rx="1.3"/>
<rect x="644.1" y="296" width="9.799999999999955" height="4.0" fill="#111" rx="1"/>
<text transform="translate(656.69,273.95) scale(0.8,1)" x="0" y="0" font-size="9.59" font-weight="normal" fill="#1a1a1a" stroke="#1a1a1a" stroke-width="0.55" textLength="22.02" lengthAdjust="spacing">100u</text>
<text transform="translate(656.69,282.95) scale(0.8,1)" x="0" y="0" font-size="9.59" font-weight="normal" fill="#1a1a1a" stroke="#1a1a1a" stroke-width="0.55" textLength="17.02" lengthAdjust="spacing">25V</text>
<text transform="translate(656.69,291.95) scale(0.8,1)" x="0" y="0" font-size="9.59" font-weight="normal" fill="#1a1a1a" stroke="#1a1a1a" stroke-width="0.55" textLength="22.02" lengthAdjust="spacing">2429</text>
<polyline points="555.5,329.5 732.5,330.5" fill="none" stroke="#2a2a2a" stroke-width="1.25" stroke-linejoin="miter" stroke-linecap="square"/>
<polyline points="623.5,330.5 623.5,428.5 460.5,428.5 460.5,338.5" fill="none" stroke="#2a2a2a" stroke-width="1.25" stroke-linejoin="miter" stroke-linecap="square"/>
<circle cx="623" cy="330" r="2.0" fill="#111"/>
<circle cx="460" cy="338" r="2.0" fill="#111"/>
<polyline points="279.5,337.5 395.5,337.5" fill="none" stroke="#2a2a2a" stroke-width="1.25" stroke-linejoin="miter" stroke-linecap="square"/>
<rect x="395.5" y="334.5" width="26.0" height="8.0" fill="#fff" stroke="#111" stroke-width="1.05" rx="0.8"/>
<text x="402.15" y="341.40" font-size="9.16" fill="#111" stroke="#111" stroke-width="0.9" textLength="11.7" lengthAdjust="spacingAndGlyphs">10K</text>
<polyline points="421.5,338.5 503.5,338.5" fill="none" stroke="#2a2a2a" stroke-width="1.25" stroke-linejoin="miter" stroke-linecap="square"/>
<text transform="translate(399.69,329.95) scale(0.8,1)" x="0" y="0" font-size="9.59" font-weight="normal" fill="#1a1a1a" stroke="#1a1a1a" stroke-width="0.55" textLength="22.02" lengthAdjust="spacing">3485</text>
<polyline points="555.5,347.5 576.5,347.5 576.5,361.5" fill="none" stroke="#2a2a2a" stroke-width="1.25" stroke-linejoin="miter" stroke-linecap="square"/>
<rect x="571.5" y="359.5" width="9.0" height="27.0" fill="#fff" stroke="#111" stroke-width="1.05" rx="0.8"/>
<text transform="translate(579.20,380.50) rotate(-90)" x="0" y="0" font-size="9.30" fill="#111" stroke="#111" stroke-width="0.9" textLength="18.5" lengthAdjust="spacingAndGlyphs">560K</text>
<polyline points="576.5,386.5 576.5,396.5" fill="none" stroke="#2a2a2a" stroke-width="1.25" stroke-linejoin="miter" stroke-linecap="square"/>
<rect x="571.1" y="396" width="9.799999999999955" height="4.0" fill="#111" rx="1"/>
<text transform="translate(584.12,365.45) scale(0.8,1)" x="0" y="0" font-size="8.87" font-weight="normal" fill="#1a1a1a" stroke="#1a1a1a" stroke-width="0.55" textLength="21.46" lengthAdjust="spacing">3483</text>
<polyline points="512.5,360.5 512.5,380.5 547.5,380.5 547.5,360.5" fill="none" stroke="#2a2a2a" stroke-width="1.25" stroke-linejoin="miter" stroke-linecap="square"/>
<rect x="524.1" y="376.0" width="4.2999999999999545" height="9.0" fill="#111" rx="1.3"/>
<rect x="529.6" y="376.0" width="4.2999999999999545" height="9.0" fill="#111" rx="1.3"/>
<text transform="translate(506.72,394.6) scale(0.8,1)" x="0" y="0" font-size="8.87" font-weight="normal" fill="#1a1a1a" stroke="#1a1a1a" stroke-width="0.55" textLength="21.96" lengthAdjust="spacing">2441</text>
<text transform="translate(533.72,394.6) scale(0.8,1)" x="0" y="0" font-size="8.87" font-weight="normal" fill="#1a1a1a" stroke="#1a1a1a" stroke-width="0.55" textLength="21.96" lengthAdjust="spacing">100p</text>
<rect x="502.5" y="317" width="53.0" height="43" fill="none" stroke="#111" stroke-width="2.8"/>
<polygon points="516,338.5 542.5,326 542.5,351" fill="none" stroke="#111" stroke-width="1.3"/>
<circle cx="512" cy="317" r="2.4" fill="#fff" stroke="#111" stroke-width="1.1"/>
<circle cx="547" cy="317" r="2.4" fill="#fff" stroke="#111" stroke-width="1.1"/>
<circle cx="503" cy="338" r="2.4" fill="#fff" stroke="#111" stroke-width="1.1"/>
<circle cx="555" cy="329.5" r="2.4" fill="#fff" stroke="#111" stroke-width="1.1"/>
<circle cx="555" cy="347" r="2.4" fill="#fff" stroke="#111" stroke-width="1.1"/>
<circle cx="512" cy="360" r="2.4" fill="#fff" stroke="#111" stroke-width="1.1"/>
<circle cx="547" cy="360" r="2.4" fill="#fff" stroke="#111" stroke-width="1.1"/>
<text transform="translate(518.00,313.5) scale(0.8,1)" x="0" y="0" font-size="8.58" font-weight="normal" fill="#1a1a1a" stroke="#1a1a1a" stroke-width="0.55" text-anchor="middle">4</text>
<text transform="translate(552.00,313.5) scale(0.8,1)" x="0" y="0" font-size="8.58" font-weight="normal" fill="#1a1a1a" stroke="#1a1a1a" stroke-width="0.55" text-anchor="middle">7</text>
<text transform="translate(496.15,334.4) scale(0.8,1)" x="0" y="0" font-size="7.99" font-weight="normal" fill="#1a1a1a" stroke="#1a1a1a" stroke-width="0.55" text-anchor="middle">6</text>
<text transform="translate(561.00,327) scale(0.8,1)" x="0" y="0" font-size="8.72" font-weight="normal" fill="#1a1a1a" stroke="#1a1a1a" stroke-width="0.55" text-anchor="middle">2</text>
<text transform="translate(561.00,343.8) scale(0.8,1)" x="0" y="0" font-size="7.99" font-weight="normal" fill="#1a1a1a" stroke="#1a1a1a" stroke-width="0.55" text-anchor="middle">3</text>
<text transform="translate(518.00,371.6) scale(0.8,1)" x="0" y="0" font-size="8.58" font-weight="normal" fill="#1a1a1a" stroke="#1a1a1a" stroke-width="0.55" text-anchor="middle">5</text>
<text transform="translate(552.00,371.6) scale(0.8,1)" x="0" y="0" font-size="8.58" font-weight="normal" fill="#1a1a1a" stroke="#1a1a1a" stroke-width="0.55" text-anchor="middle">8</text>
<polyline points="547.5,329.5 551.5,329.5" fill="none" stroke="#2a2a2a" stroke-width="0.9" stroke-linejoin="miter" stroke-linecap="square"/>
<polyline points="546.5,347.5 550.5,347.5" fill="none" stroke="#2a2a2a" stroke-width="0.9" stroke-linejoin="miter" stroke-linecap="square"/>
<polyline points="548.5,345.5 548.5,349.5" fill="none" stroke="#2a2a2a" stroke-width="0.9" stroke-linejoin="miter" stroke-linecap="square"/>
<text transform="translate(566.52,313.65) scale(0.8,1)" x="0" y="0" font-size="8.87" font-weight="normal" fill="#1a1a1a" stroke="#1a1a1a" stroke-width="0.55" textLength="33.08" lengthAdjust="spacing">LM308A</text>
<text transform="translate(566.72,322.9) scale(0.8,1)" x="0" y="0" font-size="8.87" font-weight="normal" fill="#1a1a1a" stroke="#1a1a1a" stroke-width="0.55" textLength="21.96" lengthAdjust="spacing">6391</text>
<rect x="532.1" y="424.0" width="4.2999999999999545" height="9.0" fill="#111" rx="1.3"/>
<rect x="537.6" y="424.0" width="4.2999999999999545" height="9.0" fill="#111" rx="1.3"/>
<text transform="translate(527.72,420.65) scale(0.8,1)" x="0" y="0" font-size="8.87" font-weight="normal" fill="#1a1a1a" stroke="#1a1a1a" stroke-width="0.55" textLength="22.21" lengthAdjust="spacing">2433</text>
<text transform="translate(533.22,441.7) scale(0.8,1)" x="0" y="0" font-size="8.87" font-weight="normal" fill="#1a1a1a" stroke="#1a1a1a" stroke-width="0.55" textLength="10.08" lengthAdjust="spacing">1u</text>
<circle cx="550.5" cy="433.9" r="2.8" fill="#111"/><circle cx="556.6" cy="433.9" r="2.8" fill="#111"/>
<text x="561.5" y="436.5" font-size="8.4" fill="#1a1a1a" stroke="#1a1a1a" stroke-width="0.4" textLength="4.8" lengthAdjust="spacingAndGlyphs">h</text>
<text transform="translate(472.00,482.0) scale(0.8,1)" x="0" y="0" font-size="9.45" font-weight="bold" fill="#1a1a1a" stroke="#1a1a1a" stroke-width="0.55" textLength="22.13" lengthAdjust="spacing">2420</text>
<text transform="translate(523.70,482.0) scale(0.8,1)" x="0" y="0" font-size="9.45" font-weight="bold" fill="#1a1a1a" stroke="#1a1a1a" stroke-width="0.55" textLength="22.01" lengthAdjust="spacing">5304</text>
<polyline points="189.5,286.5 211.5,286.5" fill="none" stroke="#2a2a2a" stroke-width="1.25" stroke-linejoin="miter" stroke-linecap="square"/>
<rect x="211.5" y="281.5" width="25.0" height="9.0" fill="#fff" stroke="#111" stroke-width="1.05" rx="0.8"/>
<text x="217.65" y="288.90" font-size="9.16" fill="#111" stroke="#111" stroke-width="0.55" textLength="11.7" lengthAdjust="spacingAndGlyphs">22K</text>
<polyline points="236.5,286.5 279.5,286.5 279.5,337.5" fill="none" stroke="#2a2a2a" stroke-width="1.25" stroke-linejoin="miter" stroke-linecap="square"/>
<text transform="translate(214.69,277.95) scale(0.8,1)" x="0" y="0" font-size="9.59" font-weight="normal" fill="#1a1a1a" stroke="#1a1a1a" stroke-width="0.55" textLength="22.02" lengthAdjust="spacing">3491</text>
<polyline points="189.5,286.5 189.5,337.5" fill="none" stroke="#2a2a2a" stroke-width="1.25" stroke-linejoin="miter" stroke-linecap="square"/>
<polyline points="59.5,181.5 59.5,337.5 77.5,337.5" fill="none" stroke="#2a2a2a" stroke-width="1.25" stroke-linejoin="miter" stroke-linecap="square"/>
<rect x="77.5" y="333.5" width="27.0" height="8.0" fill="#fff" stroke="#111" stroke-width="1.05" rx="0.8"/>
<text x="77.90" y="340.60" font-size="9.74" fill="#111" stroke="#111" stroke-width="0.55" textLength="17.2" lengthAdjust="spacingAndGlyphs">R1K5</text>
<polyline points="104.5,337.5 146.5,337.5" fill="none" stroke="#2a2a2a" stroke-width="1.25" stroke-linejoin="miter" stroke-linecap="square"/>
<circle cx="59.7" cy="181.7" r="2.0" fill="#111"/>
<circle cx="124" cy="337.7" r="2.0" fill="#111"/>
<text transform="translate(80.69,328.95) scale(0.8,1)" x="0" y="0" font-size="9.59" font-weight="normal" fill="#1a1a1a" stroke="#1a1a1a" stroke-width="0.55" textLength="22.02" lengthAdjust="spacing">3495</text>
<polyline points="124.5,337.5 124.5,378.5" fill="none" stroke="#2a2a2a" stroke-width="1.25" stroke-linejoin="miter" stroke-linecap="square"/>
<rect x="119.6" y="349.9" width="8.800000000000011" height="3.0" fill="#fff" stroke="#111" stroke-width="1.2" rx="0"/>
<rect x="119.1" y="355.1" width="9.800000000000011" height="3.6999999999999886" fill="#111" rx="1.3"/>
<rect x="119.1" y="377" width="9.800000000000011" height="4.0" fill="#111" rx="1"/>
<text transform="translate(132.69,354.2) scale(0.8,1)" x="0" y="0" font-size="9.59" font-weight="normal" fill="#1a1a1a" stroke="#1a1a1a" stroke-width="0.55" textLength="22.02" lengthAdjust="spacing">100u</text>
<text transform="translate(132.69,362.95) scale(0.8,1)" x="0" y="0" font-size="9.59" font-weight="normal" fill="#1a1a1a" stroke="#1a1a1a" stroke-width="0.55" textLength="17.02" lengthAdjust="spacing">40V</text>
<text transform="translate(132.69,372.2) scale(0.8,1)" x="0" y="0" font-size="9.59" font-weight="normal" fill="#1a1a1a" stroke="#1a1a1a" stroke-width="0.55" textLength="22.02" lengthAdjust="spacing">2451</text>
<rect x="146.5" y="333.5" width="26.0" height="8.0" fill="#fff" stroke="#111" stroke-width="1.05" rx="0.8"/>
<text x="153.15" y="340.40" font-size="9.16" fill="#111" stroke="#111" stroke-width="0.55" textLength="11.7" lengthAdjust="spacingAndGlyphs">1K2</text>
<text transform="translate(149.69,328.95) scale(0.8,1)" x="0" y="0" font-size="9.59" font-weight="normal" fill="#1a1a1a" stroke="#1a1a1a" stroke-width="0.55" textLength="20.77" lengthAdjust="spacing">3493</text>
<polyline points="172.5,337.5 215.5,337.5" fill="none" stroke="#2a2a2a" stroke-width="1.25" stroke-linejoin="miter" stroke-linecap="square"/>
<circle cx="189.5" cy="337.7" r="2.0" fill="#111"/>
<polyline points="250.5,329.5 279.5,329.5" fill="none" stroke="#2a2a2a" stroke-width="1.25" stroke-linejoin="miter" stroke-linecap="square"/>
<circle cx="279.5" cy="329" r="2.0" fill="#111"/>
<polyline points="250.5,346.5 267.5,346.5 267.5,360.5" fill="none" stroke="#2a2a2a" stroke-width="1.25" stroke-linejoin="miter" stroke-linecap="square"/>
<rect x="262.6" y="359.5" width="9.799999999999955" height="4.0" fill="#111" rx="1"/>
<polyline points="236.5,354.5 236.5,376.5 339.5,376.5" fill="none" stroke="#2a2a2a" stroke-width="1.25" stroke-linejoin="miter" stroke-linecap="square"/>
<rect x="214.5" y="320" width="35.5" height="34.5" fill="none" stroke="#111" stroke-width="2.8"/>
<polygon points="220,337.5 236,328.5 236,346.5" fill="none" stroke="#111" stroke-width="1.3"/>
<circle cx="215" cy="337.7" r="2.4" fill="#fff" stroke="#111" stroke-width="1.1"/>
<circle cx="250" cy="329" r="2.4" fill="#fff" stroke="#111" stroke-width="1.1"/>
<circle cx="250" cy="346" r="2.4" fill="#fff" stroke="#111" stroke-width="1.1"/>
<circle cx="236" cy="354.5" r="2.4" fill="#fff" stroke="#111" stroke-width="1.1"/>
<text transform="translate(208.50,334.0) scale(0.8,1)" x="0" y="0" font-size="9.74" font-weight="normal" fill="#1a1a1a" stroke="#1a1a1a" stroke-width="0.55" text-anchor="middle">1</text>
<text transform="translate(255.00,326.0) scale(0.8,1)" x="0" y="0" font-size="9.74" font-weight="normal" fill="#1a1a1a" stroke="#1a1a1a" stroke-width="0.55" text-anchor="middle">2</text>
<text transform="translate(255.00,343.0) scale(0.8,1)" x="0" y="0" font-size="9.74" font-weight="normal" fill="#1a1a1a" stroke="#1a1a1a" stroke-width="0.55" text-anchor="middle">3</text>
<text transform="translate(229.00,364.5) scale(0.8,1)" x="0" y="0" font-size="10.47" font-weight="normal" fill="#1a1a1a" stroke="#1a1a1a" stroke-width="0.55" text-anchor="middle">8</text>
<polyline points="239.5,329.5 243.5,329.5" fill="none" stroke="#2a2a2a" stroke-width="0.9" stroke-linejoin="miter" stroke-linecap="square"/>
<polyline points="239.5,346.5 243.5,346.5" fill="none" stroke="#2a2a2a" stroke-width="0.9" stroke-linejoin="miter" stroke-linecap="square"/>
<polyline points="241.5,344.5 241.5,348.5" fill="none" stroke="#2a2a2a" stroke-width="0.9" stroke-linejoin="miter" stroke-linecap="square"/>
<text transform="translate(209.69,307.95) scale(0.8,1)" x="0" y="0" font-size="9.59" font-weight="normal" fill="#1a1a1a" stroke="#1a1a1a" stroke-width="0.55" textLength="22.02" lengthAdjust="spacing">6393</text>
<text transform="translate(209.69,316.95) scale(0.8,1)" x="0" y="0" font-size="9.59" font-weight="normal" fill="#1a1a1a" stroke="#1a1a1a" stroke-width="0.55" textLength="42.02" lengthAdjust="spacing">NJM4560A</text>
<circle cx="297" cy="376" r="2.0" fill="#111"/>
<circle cx="327" cy="376" r="2.0" fill="#111"/>
<polyline points="297.5,376.5 297.5,418.5" fill="none" stroke="#2a2a2a" stroke-width="1.25" stroke-linejoin="miter" stroke-linecap="square"/>
<polyline points="327.5,376.5 327.5,418.5" fill="none" stroke="#2a2a2a" stroke-width="1.25" stroke-linejoin="miter" stroke-linecap="square"/>
<rect x="292.1" y="388.8" width="9.799999999999955" height="3.6999999999999886" fill="#111" rx="1.3"/>
<rect x="292.1" y="394.6" width="9.799999999999955" height="3.6999999999999886" fill="#111" rx="1.3"/>
<rect x="322.6" y="389.4" width="8.799999999999955" height="3.0" fill="#fff" stroke="#111" stroke-width="1.2" rx="0"/>
<rect x="322.1" y="394.6" width="9.799999999999955" height="3.6999999999999886" fill="#111" rx="1.3"/>
<rect x="292.1" y="416" width="9.799999999999955" height="4.0" fill="#111" rx="1"/>
<rect x="322.1" y="416" width="9.799999999999955" height="4.0" fill="#111" rx="1"/>
<text transform="translate(299.69,385.95) scale(0.8,1)" x="0" y="0" font-size="9.59" font-weight="normal" fill="#1a1a1a" stroke="#1a1a1a" stroke-width="0.55" textLength="23.27" lengthAdjust="spacing">2445</text>
<text transform="translate(303.69,393.95) scale(0.8,1)" x="0" y="0" font-size="9.59" font-weight="normal" fill="#1a1a1a" stroke="#1a1a1a" stroke-width="0.55" textLength="18.27" lengthAdjust="spacing">22N</text>
<text transform="translate(333.69,388.95) scale(0.8,1)" x="0" y="0" font-size="9.59" font-weight="normal" fill="#1a1a1a" stroke="#1a1a1a" stroke-width="0.55" textLength="23.27" lengthAdjust="spacing">2443</text>
<text transform="translate(333.69,396.95) scale(0.8,1)" x="0" y="0" font-size="9.59" font-weight="normal" fill="#1a1a1a" stroke="#1a1a1a" stroke-width="0.55" textLength="18.27" lengthAdjust="spacing">47u</text>
<text transform="translate(333.69,405.95) scale(0.8,1)" x="0" y="0" font-size="9.59" font-weight="normal" fill="#1a1a1a" stroke="#1a1a1a" stroke-width="0.55" textLength="18.27" lengthAdjust="spacing">25V</text>
<rect x="339.5" y="372.5" width="26.0" height="9.0" fill="#fff" stroke="#111" stroke-width="1.05" rx="0.8"/>
<text x="346.65" y="379.90" font-size="9.88" fill="#111" stroke="#111" stroke-width="0.55" textLength="11.7" lengthAdjust="spacingAndGlyphs">4E7</text>
<line x1="339.5" y1="369.80" x2="365.5" y2="369.80" stroke="#333" stroke-width="1.05"/>
<line x1="339.5" y1="383.00" x2="365.5" y2="383.00" stroke="#333" stroke-width="1.05"/>
<text transform="translate(343.69,367.95) scale(0.8,1)" x="0" y="0" font-size="9.59" font-weight="normal" fill="#1a1a1a" stroke="#1a1a1a" stroke-width="0.55" textLength="23.27" lengthAdjust="spacing">3489</text>
<polygon points="370.5,360.7 373.4,367.4 367.6,367.4" fill="none" stroke="#1a1a1a" stroke-width="1.3"/>
<line x1="370.5" y1="363.20" x2="370.5" y2="365.40" stroke="#222" stroke-width="1.1"/>
<circle cx="370.5" cy="366.30" r="0.6" fill="#222"/>
<polyline points="365.5,376.5 379.5,376.5" fill="none" stroke="#2a2a2a" stroke-width="1.25" stroke-linejoin="miter" stroke-linecap="square"/>
<polygon points="387.5,372.3 379,376.3 387.5,380.3" fill="#111" stroke="#111" stroke-width="0.8"/>
<line x1="390.9" y1="378.50" x2="394.10" y2="378.50" stroke="#1a1a1a" stroke-width="1"/>
<line x1="392.50" y1="376.90" x2="392.50" y2="380.10" stroke="#1a1a1a" stroke-width="1"/>
<text transform="translate(395.22,381.7) scale(0.8,1)" x="0" y="0" font-size="8.87" font-weight="normal" fill="#1a1a1a" stroke="#1a1a1a" stroke-width="0.55" textLength="9.83" lengthAdjust="spacing">16</text>
<rect x="54.5" y="459.5" width="27.0" height="7.0" fill="#fff" stroke="#111" stroke-width="1.05" rx="0.8"/>
<text x="61.90" y="464.90" font-size="6.98" fill="#111" stroke="#111" stroke-width="0.55" textLength="11.7" lengthAdjust="spacingAndGlyphs">4W7</text>
<text transform="translate(58.69,453.95) scale(0.8,1)" x="0" y="0" font-size="9.59" font-weight="normal" fill="#1a1a1a" stroke="#1a1a1a" stroke-width="0.55" textLength="22.02" lengthAdjust="spacing">3450</text>
<polyline points="81.5,462.5 116.5,462.5" fill="none" stroke="#2a2a2a" stroke-width="1.25" stroke-linejoin="miter" stroke-linecap="square"/>
<circle cx="128.8" cy="458" r="12.8" fill="none" stroke="#111" stroke-width="2.6"/>
<rect x="126.7" y="451.5" width="4.3999999999999915" height="12.800000000000011" fill="#111" rx="0.5"/>
<polygon points="119,460.3 126.8,462.4 126.8,465.2 119.6,465.2" fill="#111"/>
<polyline points="130.5,453.5 150.5,453.5 150.5,440.5 262.5,440.5" fill="none" stroke="#2a2a2a" stroke-width="1.25" stroke-linejoin="miter" stroke-linecap="square"/>
<polyline points="130.5,462.5 150.5,462.5 150.5,475.5 262.5,475.5" fill="none" stroke="#2a2a2a" stroke-width="1.25" stroke-linejoin="miter" stroke-linecap="square"/>
<text transform="translate(110.72,481.7) scale(0.8,1)" x="0" y="0" font-size="8.87" font-weight="normal" fill="#1a1a1a" stroke="#1a1a1a" stroke-width="0.55" textLength="33.21" lengthAdjust="spacing">2N4859</text>
<polyline points="176.5,415.5 262.5,415.5" fill="none" stroke="#2a2a2a" stroke-width="1.25" stroke-linejoin="miter" stroke-linecap="square"/>
<polyline points="176.5,415.5 176.5,482.5" fill="none" stroke="#2a2a2a" stroke-width="1.25" stroke-linejoin="miter" stroke-linecap="square"/>
<polyline points="262.5,415.5 262.5,482.5" fill="none" stroke="#2a2a2a" stroke-width="1.25" stroke-linejoin="miter" stroke-linecap="square"/>
<rect x="192.29999999999998" y="410.7" width="4.300000000000011" height="9.0" fill="#111" rx="1.3"/>
<rect x="197.79999999999998" y="410.7" width="4.300000000000011" height="9.0" fill="#111" rx="1.3"/>
<rect x="227.5" y="410.5" width="27.0" height="10.0" fill="#fff" stroke="#111" stroke-width="1.05" rx="0.8"/>
<text x="228.40" y="419.10" font-size="11.19" fill="#111" stroke="#111" stroke-width="0.9" textLength="21.5" lengthAdjust="spacingAndGlyphs">R820E</text>
<text transform="translate(187.69,405.95) scale(0.8,1)" x="0" y="0" font-size="9.59" font-weight="normal" fill="#1a1a1a" stroke="#1a1a1a" stroke-width="0.55" textLength="22.02" lengthAdjust="spacing">2406</text>
<circle cx="206.25" cy="411.35" r="2.25" fill="none" stroke="#1a1a1a" stroke-width="1.25"/>
<polygon points="213.5,409.40000000000003 215.9,413.59999999999997 211.1,413.59999999999997" fill="none" stroke="#1a1a1a" stroke-width="1.25"/>
<text x="217.00" y="414.20" font-size="9.4" fill="#1a1a1a" stroke="#1a1a1a" stroke-width="0.5" textLength="5.8" lengthAdjust="spacingAndGlyphs">h</text>
<text transform="translate(231.69,406.95) scale(0.8,1)" x="0" y="0" font-size="9.59" font-weight="normal" fill="#1a1a1a" stroke="#1a1a1a" stroke-width="0.55" textLength="22.02" lengthAdjust="spacing">3456</text>
<text transform="translate(191.69,429.95) scale(0.8,1)" x="0" y="0" font-size="9.59" font-weight="normal" fill="#1a1a1a" stroke="#1a1a1a" stroke-width="0.55" textLength="17.02" lengthAdjust="spacing">18n</text>
<rect x="214.1" y="436.5" width="4.300000000000011" height="9.0" fill="#111" rx="1.3"/>
<rect x="219.6" y="436.5" width="4.300000000000011" height="9.0" fill="#111" rx="1.3"/>
<circle cx="197.25" cy="436.65" r="2.25" fill="none" stroke="#1a1a1a" stroke-width="1.25"/>
<polygon points="204.5,434.70000000000005 206.9,438.9 202.1,438.9" fill="none" stroke="#1a1a1a" stroke-width="1.25"/>
<text x="209.40" y="439.50" font-size="8.3" fill="#1a1a1a" stroke="#1a1a1a" stroke-width="0.5" textLength="4" lengthAdjust="spacingAndGlyphs">r</text>
<text transform="translate(230.69,436.95) scale(0.8,1)" x="0" y="0" font-size="9.59" font-weight="normal" fill="#1a1a1a" stroke="#1a1a1a" stroke-width="0.55" textLength="22.02" lengthAdjust="spacing">2404</text>
<text transform="translate(230.69,449.95) scale(0.8,1)" x="0" y="0" font-size="9.59" font-weight="normal" fill="#1a1a1a" stroke="#1a1a1a" stroke-width="0.55" textLength="17.02" lengthAdjust="spacing">5n6</text>
<rect x="171.5" y="445.5" width="9.0" height="26.0" fill="#fff" stroke="#111" stroke-width="1.05" rx="0.8"/>
<text transform="translate(179.40,464.50) rotate(-90)" x="0" y="0" font-size="9.88" fill="#111" stroke="#111" stroke-width="0.6" textLength="13.5" lengthAdjust="spacingAndGlyphs">4W7</text>
<circle cx="176.0" cy="468.2" r="1.4" fill="#111"/>
<text transform="translate(183.69,459.95) scale(0.8,1)" x="0" y="0" font-size="9.59" font-weight="normal" fill="#1a1a1a" stroke="#1a1a1a" stroke-width="0.55" textLength="22.02" lengthAdjust="spacing">3496</text>
<rect x="214.1" y="471.5" width="4.300000000000011" height="9.0" fill="#111" rx="1.3"/>
<rect x="219.6" y="471.5" width="4.300000000000011" height="9.0" fill="#111" rx="1.3"/>
<circle cx="227.85" cy="472.05" r="2.25" fill="none" stroke="#1a1a1a" stroke-width="1.25"/>
<polygon points="235.1,470.1 237.5,474.29999999999995 232.7,474.29999999999995" fill="none" stroke="#1a1a1a" stroke-width="1.25"/>
<text x="240.00" y="474.90" font-size="8.3" fill="#1a1a1a" stroke="#1a1a1a" stroke-width="0.5" textLength="4" lengthAdjust="spacingAndGlyphs">r</text>
<text transform="translate(209.69,466.95) scale(0.8,1)" x="0" y="0" font-size="9.59" font-weight="normal" fill="#1a1a1a" stroke="#1a1a1a" stroke-width="0.55" textLength="22.02" lengthAdjust="spacing">2402</text>
<circle cx="176.5" cy="440.5" r="2.0" fill="#111"/>
<circle cx="262.5" cy="440.5" r="2.0" fill="#111"/>
<circle cx="176.5" cy="475.3" r="2.0" fill="#111"/>
<circle cx="262.5" cy="475.3" r="2.0" fill="#111"/>
<ellipse cx="245" cy="170.45" rx="28.5" ry="35.95" fill="none" stroke="#fe0010" stroke-width="3.2" transform="rotate(0.5 245 170.45)"/>
<ellipse cx="371" cy="272.9" rx="41.4" ry="44.4" fill="none" stroke="#fe0010" stroke-width="3.2"/>
</svg></body></html>
